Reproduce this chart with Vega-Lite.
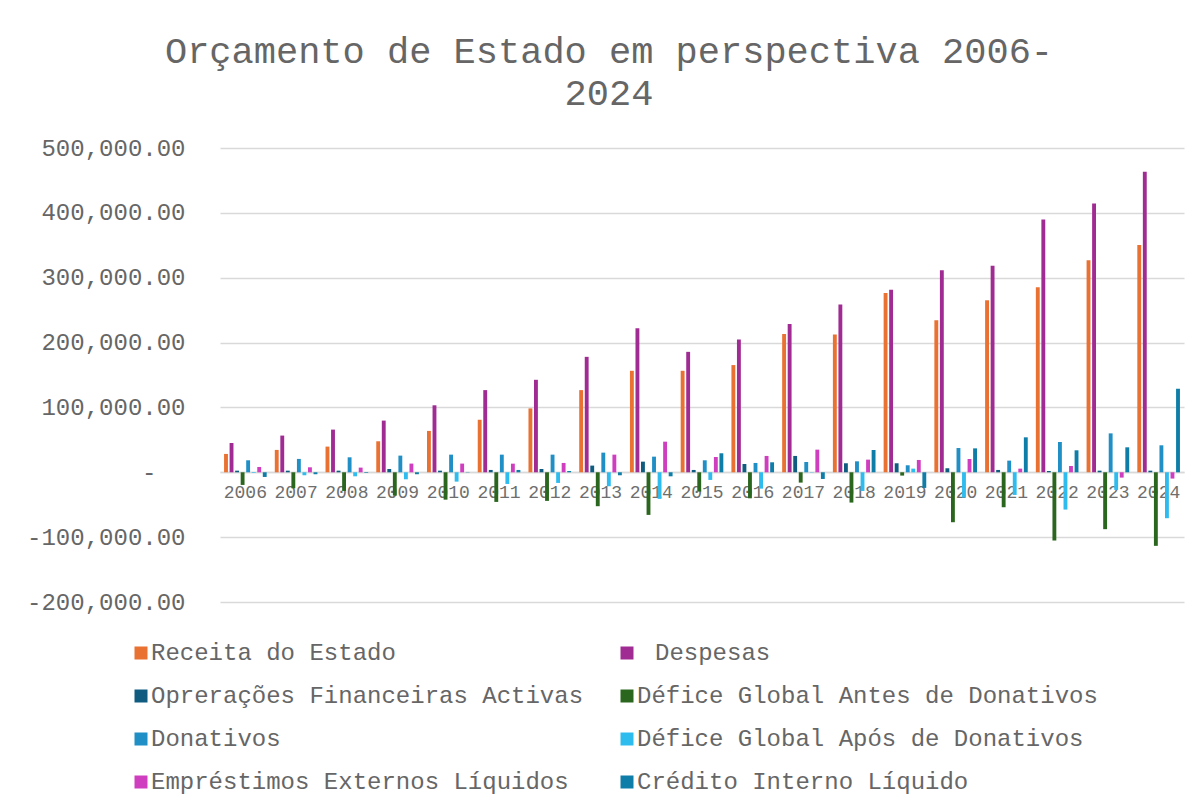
{
  "$schema": "https://vega.github.io/schema/vega-lite/v6.json",
  "width": 964,
  "height": 454,
  "autosize": {"type": "none"},
  "padding": {"left": 220, "top": 148, "right": 18, "bottom": 205},
  "background": "white",
  "title": {
    "text": ["Orçamento de Estado em perspectiva 2006-", "2024"],
    "font": "Liberation Mono",
    "fontSize": 37,
    "fontWeight": "normal",
    "color": "#666666",
    "lineHeight": 42,
    "anchor": "middle",
    "frame": "group",
    "dx": -93,
    "offset": 23
  },
  "data": {
    "values": [
      {"year": "2006", "series": "Receita do Estado", "value": 28300},
      {"year": "2006", "series": "Despesas", "value": 45200},
      {"year": "2006", "series": "Oprerações Financeiras Activas", "value": 2500},
      {"year": "2006", "series": "Défice Global Antes de Donativos", "value": -19500},
      {"year": "2006", "series": "Donativos", "value": 18500},
      {"year": "2006", "series": "Défice Global Após de Donativos", "value": -1000},
      {"year": "2006", "series": "Empréstimos Externos Líquidos", "value": 8200},
      {"year": "2006", "series": "Crédito Interno Líquido", "value": -7200},
      {"year": "2007", "series": "Receita do Estado", "value": 34500},
      {"year": "2007", "series": "Despesas", "value": 56600},
      {"year": "2007", "series": "Oprerações Financeiras Activas", "value": 2500},
      {"year": "2007", "series": "Défice Global Antes de Donativos", "value": -24700},
      {"year": "2007", "series": "Donativos", "value": 20600},
      {"year": "2007", "series": "Défice Global Após de Donativos", "value": -4600},
      {"year": "2007", "series": "Empréstimos Externos Líquidos", "value": 7700},
      {"year": "2007", "series": "Crédito Interno Líquido", "value": -3000},
      {"year": "2008", "series": "Receita do Estado", "value": 39600},
      {"year": "2008", "series": "Despesas", "value": 65800},
      {"year": "2008", "series": "Oprerações Financeiras Activas", "value": 2500},
      {"year": "2008", "series": "Défice Global Antes de Donativos", "value": -28800},
      {"year": "2008", "series": "Donativos", "value": 23100},
      {"year": "2008", "series": "Défice Global Após de Donativos", "value": -6200},
      {"year": "2008", "series": "Empréstimos Externos Líquidos", "value": 7200},
      {"year": "2008", "series": "Crédito Interno Líquido", "value": -1000},
      {"year": "2009", "series": "Receita do Estado", "value": 47800},
      {"year": "2009", "series": "Despesas", "value": 79700},
      {"year": "2009", "series": "Oprerações Financeiras Activas", "value": 5100},
      {"year": "2009", "series": "Défice Global Antes de Donativos", "value": -36000},
      {"year": "2009", "series": "Donativos", "value": 25700},
      {"year": "2009", "series": "Défice Global Após de Donativos", "value": -10800},
      {"year": "2009", "series": "Empréstimos Externos Líquidos", "value": 13400},
      {"year": "2009", "series": "Crédito Interno Líquido", "value": -3000},
      {"year": "2010", "series": "Receita do Estado", "value": 63800},
      {"year": "2010", "series": "Despesas", "value": 103300},
      {"year": "2010", "series": "Oprerações Financeiras Activas", "value": 2500},
      {"year": "2010", "series": "Défice Global Antes de Donativos", "value": -42200},
      {"year": "2010", "series": "Donativos", "value": 27200},
      {"year": "2010", "series": "Défice Global Após de Donativos", "value": -14400},
      {"year": "2010", "series": "Empréstimos Externos Líquidos", "value": 13400},
      {"year": "2010", "series": "Crédito Interno Líquido", "value": 500},
      {"year": "2011", "series": "Receita do Estado", "value": 81000},
      {"year": "2011", "series": "Despesas", "value": 126700},
      {"year": "2011", "series": "Oprerações Financeiras Activas", "value": 3600},
      {"year": "2011", "series": "Défice Global Antes de Donativos", "value": -45700},
      {"year": "2011", "series": "Donativos", "value": 27200},
      {"year": "2011", "series": "Défice Global Após de Donativos", "value": -18000},
      {"year": "2011", "series": "Empréstimos Externos Líquidos", "value": 13300},
      {"year": "2011", "series": "Crédito Interno Líquido", "value": 3600},
      {"year": "2012", "series": "Receita do Estado", "value": 98500},
      {"year": "2012", "series": "Despesas", "value": 142600},
      {"year": "2012", "series": "Oprerações Financeiras Activas", "value": 5100},
      {"year": "2012", "series": "Défice Global Antes de Donativos", "value": -44100},
      {"year": "2012", "series": "Donativos", "value": 27200},
      {"year": "2012", "series": "Défice Global Após de Donativos", "value": -16400},
      {"year": "2012", "series": "Empréstimos Externos Líquidos", "value": 14400},
      {"year": "2012", "series": "Crédito Interno Líquido", "value": 2000},
      {"year": "2013", "series": "Receita do Estado", "value": 126700},
      {"year": "2013", "series": "Despesas", "value": 178000},
      {"year": "2013", "series": "Oprerações Financeiras Activas", "value": 10300},
      {"year": "2013", "series": "Défice Global Antes de Donativos", "value": -52300},
      {"year": "2013", "series": "Donativos", "value": 30300},
      {"year": "2013", "series": "Défice Global Após de Donativos", "value": -21500},
      {"year": "2013", "series": "Empréstimos Externos Líquidos", "value": 27200},
      {"year": "2013", "series": "Crédito Interno Líquido", "value": -4600},
      {"year": "2014", "series": "Receita do Estado", "value": 156500},
      {"year": "2014", "series": "Despesas", "value": 222100},
      {"year": "2014", "series": "Oprerações Financeiras Activas", "value": 16400},
      {"year": "2014", "series": "Défice Global Antes de Donativos", "value": -65700},
      {"year": "2014", "series": "Donativos", "value": 24100},
      {"year": "2014", "series": "Défice Global Após de Donativos", "value": -41000},
      {"year": "2014", "series": "Empréstimos Externos Líquidos", "value": 47200},
      {"year": "2014", "series": "Crédito Interno Líquido", "value": -6200},
      {"year": "2015", "series": "Receita do Estado", "value": 156500},
      {"year": "2015", "series": "Despesas", "value": 185700},
      {"year": "2015", "series": "Oprerações Financeiras Activas", "value": 3600},
      {"year": "2015", "series": "Défice Global Antes de Donativos", "value": -29800},
      {"year": "2015", "series": "Donativos", "value": 18500},
      {"year": "2015", "series": "Défice Global Após de Donativos", "value": -11800},
      {"year": "2015", "series": "Empréstimos Externos Líquidos", "value": 23600},
      {"year": "2015", "series": "Crédito Interno Líquido", "value": 29300},
      {"year": "2016", "series": "Receita do Estado", "value": 165300},
      {"year": "2016", "series": "Despesas", "value": 204900},
      {"year": "2016", "series": "Oprerações Financeiras Activas", "value": 12800},
      {"year": "2016", "series": "Défice Global Antes de Donativos", "value": -40100},
      {"year": "2016", "series": "Donativos", "value": 14400},
      {"year": "2016", "series": "Défice Global Após de Donativos", "value": -25200},
      {"year": "2016", "series": "Empréstimos Externos Líquidos", "value": 25200},
      {"year": "2016", "series": "Crédito Interno Líquido", "value": 15400},
      {"year": "2017", "series": "Receita do Estado", "value": 213100},
      {"year": "2017", "series": "Despesas", "value": 228500},
      {"year": "2017", "series": "Oprerações Financeiras Activas", "value": 25200},
      {"year": "2017", "series": "Défice Global Antes de Donativos", "value": -15900},
      {"year": "2017", "series": "Donativos", "value": 15900},
      {"year": "2017", "series": "Défice Global Após de Donativos", "value": -500},
      {"year": "2017", "series": "Empréstimos Externos Líquidos", "value": 34900},
      {"year": "2017", "series": "Crédito Interno Líquido", "value": -10300},
      {"year": "2018", "series": "Receita do Estado", "value": 212600},
      {"year": "2018", "series": "Despesas", "value": 258800},
      {"year": "2018", "series": "Oprerações Financeiras Activas", "value": 13900},
      {"year": "2018", "series": "Défice Global Antes de Donativos", "value": -46700},
      {"year": "2018", "series": "Donativos", "value": 16900},
      {"year": "2018", "series": "Défice Global Após de Donativos", "value": -28800},
      {"year": "2018", "series": "Empréstimos Externos Líquidos", "value": 19500},
      {"year": "2018", "series": "Crédito Interno Líquido", "value": 34400},
      {"year": "2019", "series": "Receita do Estado", "value": 276300},
      {"year": "2019", "series": "Despesas", "value": 281400},
      {"year": "2019", "series": "Oprerações Financeiras Activas", "value": 13900},
      {"year": "2019", "series": "Défice Global Antes de Donativos", "value": -5100},
      {"year": "2019", "series": "Donativos", "value": 10800},
      {"year": "2019", "series": "Défice Global Após de Donativos", "value": 5600},
      {"year": "2019", "series": "Empréstimos Externos Líquidos", "value": 19000},
      {"year": "2019", "series": "Crédito Interno Líquido", "value": -24100},
      {"year": "2020", "series": "Receita do Estado", "value": 234400},
      {"year": "2020", "series": "Despesas", "value": 311400},
      {"year": "2020", "series": "Oprerações Financeiras Activas", "value": 6200},
      {"year": "2020", "series": "Défice Global Antes de Donativos", "value": -77000},
      {"year": "2020", "series": "Donativos", "value": 37400},
      {"year": "2020", "series": "Défice Global Após de Donativos", "value": -39000},
      {"year": "2020", "series": "Empréstimos Externos Líquidos", "value": 20500},
      {"year": "2020", "series": "Crédito Interno Líquido", "value": 36900},
      {"year": "2021", "series": "Receita do Estado", "value": 265200},
      {"year": "2021", "series": "Despesas", "value": 318600},
      {"year": "2021", "series": "Oprerações Financeiras Activas", "value": 3600},
      {"year": "2021", "series": "Défice Global Antes de Donativos", "value": -53900},
      {"year": "2021", "series": "Donativos", "value": 18000},
      {"year": "2021", "series": "Défice Global Após de Donativos", "value": -34900},
      {"year": "2021", "series": "Empréstimos Externos Líquidos", "value": 5600},
      {"year": "2021", "series": "Crédito Interno Líquido", "value": 53900},
      {"year": "2022", "series": "Receita do Estado", "value": 285200},
      {"year": "2022", "series": "Despesas", "value": 389900},
      {"year": "2022", "series": "Oprerações Financeiras Activas", "value": 2000},
      {"year": "2022", "series": "Défice Global Antes de Donativos", "value": -105200},
      {"year": "2022", "series": "Donativos", "value": 46700},
      {"year": "2022", "series": "Défice Global Após de Donativos", "value": -57500},
      {"year": "2022", "series": "Empréstimos Externos Líquidos", "value": 9700},
      {"year": "2022", "series": "Crédito Interno Líquido", "value": 33900},
      {"year": "2023", "series": "Receita do Estado", "value": 326800},
      {"year": "2023", "series": "Despesas", "value": 414500},
      {"year": "2023", "series": "Oprerações Financeiras Activas", "value": 2500},
      {"year": "2023", "series": "Défice Global Antes de Donativos", "value": -87700},
      {"year": "2023", "series": "Donativos", "value": 60000},
      {"year": "2023", "series": "Défice Global Após de Donativos", "value": -27200},
      {"year": "2023", "series": "Empréstimos Externos Líquidos", "value": -8200},
      {"year": "2023", "series": "Crédito Interno Líquido", "value": 38500},
      {"year": "2024", "series": "Receita do Estado", "value": 350400},
      {"year": "2024", "series": "Despesas", "value": 463200},
      {"year": "2024", "series": "Oprerações Financeiras Activas", "value": 2500},
      {"year": "2024", "series": "Défice Global Antes de Donativos", "value": -113400},
      {"year": "2024", "series": "Donativos", "value": 41600},
      {"year": "2024", "series": "Défice Global Após de Donativos", "value": -70800},
      {"year": "2024", "series": "Empréstimos Externos Líquidos", "value": -9700},
      {"year": "2024", "series": "Crédito Interno Líquido", "value": 128800}
    ]
  },
  "mark": {"type": "bar"},
  "encoding": {
    "x": {
      "field": "year",
      "type": "nominal",
      "sort": null,
      "scale": {"paddingInner": 0.16, "paddingOuter": 0.08},
      "axis": {
        "title": null,
        "labelAngle": 0,
        "labelFont": "Liberation Mono",
        "labelFontSize": 18,
        "labelColor": "#6e6e6e",
        "ticks": false,
        "domainColor": "#d9d9d9",
        "domainWidth": 1.5,
        "offset": -130,
        "labelPadding": 11
      }
    },
    "xOffset": {
      "field": "series",
      "type": "nominal",
      "scale": {
        "domain": ["Receita do Estado", "Despesas", "Oprerações Financeiras Activas", "Défice Global Antes de Donativos", "Donativos", "Défice Global Após de Donativos", "Empréstimos Externos Líquidos", "Crédito Interno Líquido"],
        "paddingInner": 0.3
      }
    },
    "y": {
      "field": "value",
      "type": "quantitative",
      "scale": {"domain": [-200000, 500000], "nice": false},
      "axis": {
        "title": null,
        "values": [-200000, -100000, 0, 100000, 200000, 300000, 400000, 500000],
        "labelExpr": "datum.value == 0 ? '-' : replace(format(datum.value, ',.2f'), '\u2212', '-')",
        "labelFont": "Liberation Mono",
        "labelFontSize": 24,
        "labelColor": "#666666",
        "labelPadding": {"condition": {"test": "datum.value == 0", "value": 64}, "value": 35},
        "ticks": false,
        "domain": false,
        "gridColor": "#d9d9d9",
        "gridWidth": 1.5
      }
    },
    "color": {
      "field": "series",
      "type": "nominal",
      "scale": {
        "domain": ["Receita do Estado", "Oprerações Financeiras Activas", "Donativos", "Empréstimos Externos Líquidos", "Despesas", "Défice Global Antes de Donativos", "Défice Global Após de Donativos", "Crédito Interno Líquido"],
        "range": ["#E97132", "#0F5C80", "#1F8FC5", "#D03EC0", "#A02B93", "#2B661F", "#2EBCEE", "#0E7DA8"]
      },
      "legend": {
        "title": null,
        "orient": "none",
        "legendX": -91,
        "legendY": 493,
        "columns": 2,
        "columnPadding": 31,
        "rowPadding": 19,
        "symbolType": "square",
        "symbolSize": 169,
        "symbolStrokeWidth": 0,
        "labelOffset": -2,
        "labelFont": "Liberation Mono",
        "labelFontSize": 24,
        "labelColor": "#666666",
        "labelLimit": 600,
        "labelExpr": "(datum.value == 'Despesas' ? '\u2800' : '') + datum.label"
      }
    }
  },
  "config": {
    "view": {"stroke": null}
  }
}
